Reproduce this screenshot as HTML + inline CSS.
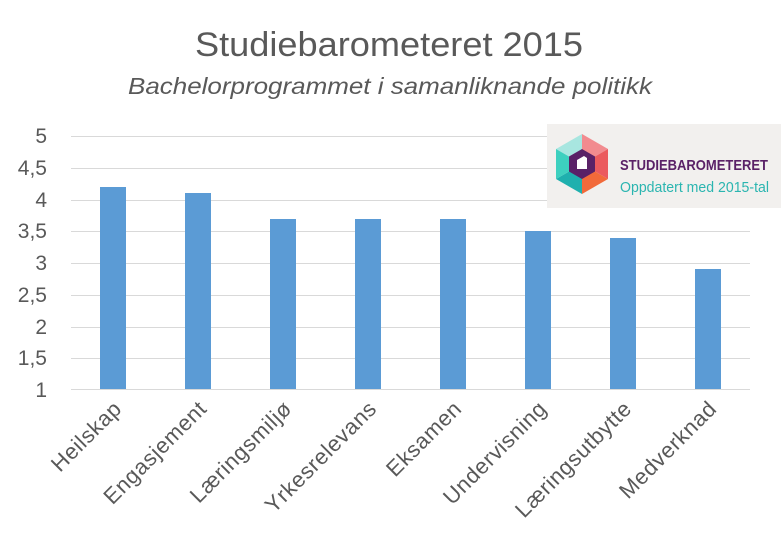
<!DOCTYPE html>
<html><head><style>body{margin:0;background:#fff;}svg{display:block;font-family:"Liberation Sans",sans-serif;}</style></head>
<body>
<svg width="781" height="552" viewBox="0 0 781 552">
<text x="195" y="56" textLength="388" lengthAdjust="spacingAndGlyphs" font-size="34" fill="#595959">Studiebarometeret 2015</text>
<text x="128" y="94" textLength="524" lengthAdjust="spacingAndGlyphs" font-size="23" font-style="italic" fill="#595959">Bachelorprogrammet i samanliknande politikk</text>
<g stroke="#d9d9d9" stroke-width="1">
<line x1="71" x2="750" y1="136.5" y2="136.5"/><line x1="71" x2="750" y1="168.5" y2="168.5"/>
<line x1="71" x2="750" y1="200.5" y2="200.5"/><line x1="71" x2="750" y1="231.5" y2="231.5"/>
<line x1="71" x2="750" y1="263.5" y2="263.5"/><line x1="71" x2="750" y1="295.5" y2="295.5"/>
<line x1="71" x2="750" y1="327.5" y2="327.5"/><line x1="71" x2="750" y1="358.5" y2="358.5"/>
<line x1="71" x2="750" y1="389.5" y2="389.5"/>
</g>
<g font-size="21" fill="#595959" text-anchor="end">
<text x="47" y="143">5</text><text x="47" y="175">4,5</text><text x="47" y="207">4</text><text x="47" y="238">3,5</text>
<text x="47" y="270">3</text><text x="47" y="302">2,5</text><text x="47" y="334">2</text><text x="47" y="365">1,5</text><text x="47" y="397">1</text>
</g>
<g fill="#5b9bd5">
<rect x="100" y="187" width="26" height="202"/><rect x="185" y="193" width="26" height="196"/>
<rect x="270" y="219" width="26" height="170"/><rect x="355" y="219" width="26" height="170"/>
<rect x="440" y="219" width="26" height="170"/><rect x="525" y="231" width="26" height="158"/>
<rect x="610" y="238" width="26" height="151"/><rect x="695" y="269" width="26" height="120"/>
</g>
<g font-size="22" fill="#595959" text-anchor="end" letter-spacing="0.6">
<text transform="translate(123,410) rotate(-45)">Heilskap</text>
<text transform="translate(208,410) rotate(-45)">Engasjement</text>
<text transform="translate(293,410) rotate(-45)">Læringsmiljø</text>
<text transform="translate(378,410) rotate(-45)">Yrkesrelevans</text>
<text transform="translate(463,410) rotate(-45)">Eksamen</text>
<text transform="translate(548,410) rotate(-45)">Undervisning</text>
<text transform="translate(633,410) rotate(-45)">Læringsutbytte</text>
<text transform="translate(718,410) rotate(-45)">Medverknad</text>
</g>
<rect x="547" y="124" width="234" height="84" fill="#f2f0ee"/>
<g transform="translate(582,164)">
<polygon points="0,0 0,-30 -26,-15" fill="#a8e6e0"/>
<polygon points="0,0 0,-30 26,-15" fill="#f28b8f"/>
<polygon points="0,0 26,-15 26,15" fill="#eb5a5e"/>
<polygon points="0,0 26,15 0,30" fill="#f26a3a"/>
<polygon points="0,0 0,30 -26,15" fill="#1fb0ae"/>
<polygon points="0,0 -26,15 -26,-15" fill="#3dd0bf"/>
<polygon points="0,-15 13,-7.5 13,7.5 0,15 -13,7.5 -13,-7.5" fill="#5a2167"/>
<polygon points="-5,-4 2,-8 5,-6 5,5 -5,5" fill="#fff"/>
</g>
<text x="620" y="170" font-size="15" font-weight="bold" fill="#5a2167" textLength="148" lengthAdjust="spacingAndGlyphs">STUDIEBAROMETERET</text>
<text x="620" y="192" font-size="15" fill="#2bb5b0" textLength="149" lengthAdjust="spacingAndGlyphs">Oppdatert med 2015-tal</text>
</svg>
</body></html>
